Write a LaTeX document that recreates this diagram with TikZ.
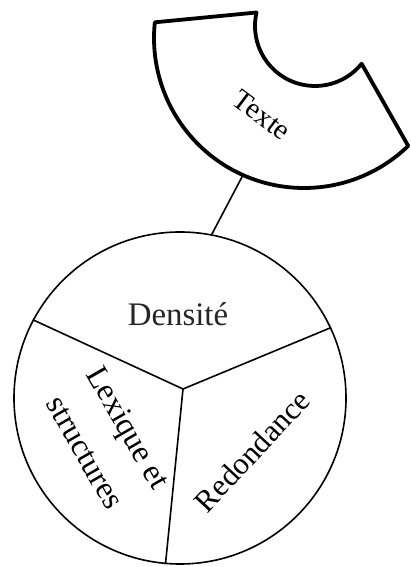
\documentclass[tikz,border=0pt]{standalone}
\usepackage{fontspec}
\setmainfont{Liberation Serif}
\usetikzlibrary{calc}

\begin{document}
\begin{tikzpicture}[x=1bp, y=1bp,
    part/.style={line width=1.6bp},
    lbl/.style={align=center, inner sep=0pt}
]
    \useasboundingbox (0,0) rectangle (410,567);

    % Texte block (ring segment)
    \coordinate (ci) at (315,541);
    \coordinate (co) at (304,529);
    \draw[line width=3.8bp, line join=round]
        ($(ci)+(167:60)$) arc[start angle=167, end angle=321, radius=60]
        -- ($(co)+(-46:150)$) arc[start angle=-46, end angle=-186, radius=150] -- cycle;
    \node[lbl, rotate=-37, font=\fontsize{29}{34}\selectfont] (texte) at (262,452) {Texte};
    \coordinate (tbot) at ($(co)+(246:150)$);

    % Circle with three parts
    \node[draw, part, circle, minimum size=332bp, inner sep=0pt] (pie) at (180,169) {};
    \coordinate (hub) at (183,178);
    \draw[part] (hub) -- (pie.152);
    \draw[part] (hub) -- (pie.25);
    \draw[part] (hub) -- (pie.265);

    % Link
    \draw[part] (pie.79) -- (tbot);

    % Labels
    \node[lbl, anchor=base, text=black!85, font=\fontsize{33}{40}\selectfont] (dens) at (178,241) {Densité};
    \node[lbl, rotate=-60, font=\fontsize{32}{50}\selectfont] (lex) at (107,127) {Lexique et\\structures};
    \node[lbl, rotate=47, font=\fontsize{31}{36}\selectfont] (redo) at (252,116) {Redondance};
\end{tikzpicture}
\end{document}
